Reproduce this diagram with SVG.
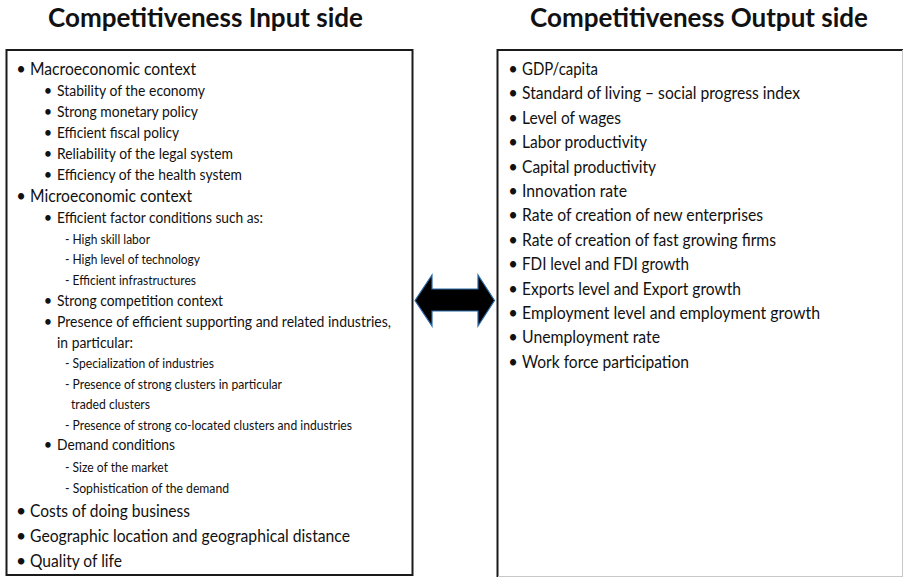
<svg xmlns="http://www.w3.org/2000/svg" width="903" height="577" viewBox="0 0 903 577">
  <style>
    text { font-family: "Lato", "Liberation Sans", sans-serif; fill: #111; }
    .title { font-size: 26px; font-weight: bold; text-anchor: middle; }
    .box { fill: #fff; stroke: #1a1a1a; stroke-width: 2; }
    .edge { stroke: #c8c8c8; stroke-width: 1; }
    .b { text-anchor: middle; }
    .l1 { font-size: 16.5px; }
    .l2 { font-size: 14.5px; }
    .l3 { font-size: 12.5px; }
    .big { font-size: 17.5px; }
    .r { font-size: 16.5px; }
    .arrow { fill: #000; stroke: #2a6aa8; stroke-width: 1.2; stroke-linejoin: miter; }
  </style>

  <rect width="903" height="577" fill="#fff"/>

  <!-- Titles -->
  <text class="title" x="205.5" y="27" textLength="315" lengthAdjust="spacingAndGlyphs">Competitiveness Input side</text>
  <text class="title" x="699" y="27" textLength="338" lengthAdjust="spacingAndGlyphs">Competitiveness Output side</text>

  <!-- Input side box -->
  <g id="input-side">
    <rect class="box" x="6.5" y="50" width="406" height="525"/>
    <text class="b l1" x="21" y="75">•</text>
    <text class="l1" x="30" y="75" textLength="166" lengthAdjust="spacingAndGlyphs">Macroeconomic context</text>
    <text class="b l2" x="48" y="96">•</text>
    <text class="l2" x="57" y="96" textLength="148" lengthAdjust="spacingAndGlyphs">Stability of the economy</text>
    <text class="b l2" x="48" y="117">•</text>
    <text class="l2" x="57" y="117" textLength="141" lengthAdjust="spacingAndGlyphs">Strong monetary policy</text>
    <text class="b l2" x="48" y="138">•</text>
    <text class="l2" x="57" y="138" textLength="122" lengthAdjust="spacingAndGlyphs">Efficient fiscal policy</text>
    <text class="b l2" x="48" y="159">•</text>
    <text class="l2" x="57" y="159" textLength="176" lengthAdjust="spacingAndGlyphs">Reliability of the legal system</text>
    <text class="b l2" x="48" y="180">•</text>
    <text class="l2" x="57" y="180" textLength="185" lengthAdjust="spacingAndGlyphs">Efficiency of the health system</text>

    <text class="b l1" x="21" y="202">•</text>
    <text class="l1" x="30" y="202" textLength="162" lengthAdjust="spacingAndGlyphs">Microeconomic context</text>
    <text class="b l2" x="48" y="223">•</text>
    <text class="l2" x="57" y="223" textLength="206" lengthAdjust="spacingAndGlyphs">Efficient factor conditions such as:</text>
    <text class="l3" x="65" y="244" textLength="85" lengthAdjust="spacingAndGlyphs">- High skill labor</text>
    <text class="l3" x="65" y="264" textLength="135" lengthAdjust="spacingAndGlyphs">- High level of technology</text>
    <text class="l3" x="65" y="285" textLength="131" lengthAdjust="spacingAndGlyphs">- Efficient infrastructures</text>
    <text class="b l2" x="48" y="306">•</text>
    <text class="l2" x="57" y="306" textLength="166" lengthAdjust="spacingAndGlyphs">Strong competition context</text>
    <text class="b l2" x="48" y="327">•</text>
    <text class="l2" x="57" y="327" textLength="334" lengthAdjust="spacingAndGlyphs">Presence of efficient supporting and related industries,</text>
    <text class="l2" x="57" y="348" textLength="76" lengthAdjust="spacingAndGlyphs">in particular:</text>
    <text class="l3" x="65" y="368" textLength="149" lengthAdjust="spacingAndGlyphs">- Specialization of industries</text>
    <text class="l3" x="65" y="389" textLength="217" lengthAdjust="spacingAndGlyphs">- Presence of strong clusters in particular</text>
    <text class="l3" x="71" y="409" textLength="79" lengthAdjust="spacingAndGlyphs">traded clusters</text>
    <text class="l3" x="65" y="430" textLength="287" lengthAdjust="spacingAndGlyphs">- Presence of strong co-located clusters and industries</text>
    <text class="b l2" x="48" y="450">•</text>
    <text class="l2" x="57" y="450" textLength="118" lengthAdjust="spacingAndGlyphs">Demand conditions</text>
    <text class="l3" x="65" y="472" textLength="103" lengthAdjust="spacingAndGlyphs">- Size of the market</text>
    <text class="l3" x="65" y="493" textLength="164" lengthAdjust="spacingAndGlyphs">- Sophistication of the demand</text>

    <text class="b big" x="21" y="517">•</text>
    <text class="big" x="30" y="517" textLength="160" lengthAdjust="spacingAndGlyphs">Costs of doing business</text>
    <text class="b big" x="21" y="542">•</text>
    <text class="big" x="30" y="542" textLength="320" lengthAdjust="spacingAndGlyphs">Geographic location and geographical distance</text>
    <text class="b big" x="21" y="567">•</text>
    <text class="big" x="30" y="567" textLength="92" lengthAdjust="spacingAndGlyphs">Quality of life</text>
  </g>

  <!-- Output side box -->
  <g id="output-side">
    <rect class="box" x="497.5" y="50" width="410" height="540"/>
    <line class="edge" x1="902.5" y1="50" x2="902.5" y2="577"/>
    <line class="edge" x1="498" y1="576.5" x2="903" y2="576.5"/>
    <text class="b r" x="513" y="75">•</text>
    <text class="r" x="522" y="75" textLength="76" lengthAdjust="spacingAndGlyphs">GDP/capita</text>
    <text class="b r" x="513" y="99.4">•</text>
    <text class="r" x="522" y="99.4" textLength="278" lengthAdjust="spacingAndGlyphs">Standard of living – social progress index</text>
    <text class="b r" x="513" y="123.8">•</text>
    <text class="r" x="522" y="123.8" textLength="99" lengthAdjust="spacingAndGlyphs">Level of wages</text>
    <text class="b r" x="513" y="148.2">•</text>
    <text class="r" x="522" y="148.2" textLength="125" lengthAdjust="spacingAndGlyphs">Labor productivity</text>
    <text class="b r" x="513" y="172.6">•</text>
    <text class="r" x="522" y="172.6" textLength="134" lengthAdjust="spacingAndGlyphs">Capital productivity</text>
    <text class="b r" x="513" y="197">•</text>
    <text class="r" x="522" y="197" textLength="105" lengthAdjust="spacingAndGlyphs">Innovation rate</text>
    <text class="b r" x="513" y="221.4">•</text>
    <text class="r" x="522" y="221.4" textLength="241" lengthAdjust="spacingAndGlyphs">Rate of creation of new enterprises</text>
    <text class="b r" x="513" y="245.8">•</text>
    <text class="r" x="522" y="245.8" textLength="254" lengthAdjust="spacingAndGlyphs">Rate of creation of fast growing firms</text>
    <text class="b r" x="513" y="270.2">•</text>
    <text class="r" x="522" y="270.2" textLength="167" lengthAdjust="spacingAndGlyphs">FDI level and FDI growth</text>
    <text class="b r" x="513" y="294.6">•</text>
    <text class="r" x="522" y="294.6" textLength="219" lengthAdjust="spacingAndGlyphs">Exports level and Export growth</text>
    <text class="b r" x="513" y="319">•</text>
    <text class="r" x="522" y="319" textLength="298" lengthAdjust="spacingAndGlyphs">Employment level and employment growth</text>
    <text class="b r" x="513" y="343.4">•</text>
    <text class="r" x="522" y="343.4" textLength="138" lengthAdjust="spacingAndGlyphs">Unemployment rate</text>
    <text class="b r" x="513" y="367.8">•</text>
    <text class="r" x="522" y="367.8" textLength="167" lengthAdjust="spacingAndGlyphs">Work force participation</text>
  </g>

  <!-- Two-way block arrow between the sides -->
  <g id="connectors">
    <polygon class="arrow" points="415,300.5 432,275 432,289 478,289 478,275 494.5,300.5 478,326 478,311 432,311 432,326"/>
  </g>
</svg>
